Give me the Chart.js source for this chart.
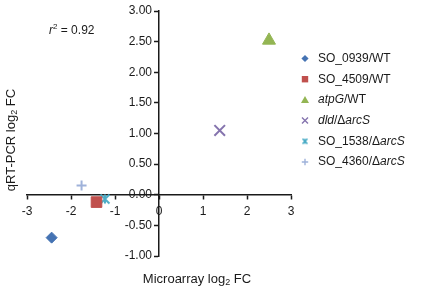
<!DOCTYPE html>
<html>
<head>
<meta charset="utf-8">
<script src="https://cdn.jsdelivr.net/npm/chart.js@4/dist/chart.umd.min.js"></script>
<style>
html,body{margin:0;padding:0;background:#fff;}
#wrap{width:428px;height:288px;position:relative;}
</style>
</head>
<body>
<div id="wrap"><canvas id="c" width="428" height="288"></canvas></div>
<script>
// ---- data ----
const seriesNames = ["SO_0939/WT", "SO_4509/WT", "atpG/WT", "dld/ΔarcS", "SO_1538/ΔarcS", "SO_4360/ΔarcS"];
// legend label pieces: [text, italic]
const legendParts = [
  [["SO_0939/WT", false]],
  [["SO_4509/WT", false]],
  [["atpG", true], ["/WT", false]],
  [["dld", true], ["/Δ", false], ["arcS", true]],
  [["SO_1538/Δ", false], ["arcS", true]],
  [["SO_4360/Δ", false], ["arcS", true]]
];
const microarrayFC = [-2.44, -1.42, 2.50, 1.38, -1.23, -1.76];
const qpcrFC = [-0.70, -0.12, 2.52, 1.05, -0.07, 0.15];
const xTickValues = [-3, -2, -1, 0, 1, 2, 3];
const yTickValues = [-1.00, -0.50, 0.00, 0.50, 1.00, 1.50, 2.00, 2.50, 3.00];
const rSquaredText = "0.92";

// ---- styles ----
const colors = ["#4573B3", "#C0504D", "#93B553", "#8574AE", "#4BACC6", "#9FB2DA"];
const FONT = "'Liberation Sans', Arial, sans-serif";

function starCanvas(size, color, lw) {
  const c = document.createElement('canvas');
  c.width = size; c.height = size;
  const g = c.getContext('2d');
  g.strokeStyle = color; g.lineWidth = lw;
  const m = 1.5, s = size - 1.5;
  g.beginPath();
  g.moveTo(m, m); g.lineTo(s, s);
  g.moveTo(s, m); g.lineTo(m, s);
  g.moveTo(size / 2, m); g.lineTo(size / 2, s);
  g.stroke();
  return c;
}
const starBig = starCanvas(12, colors[4], 2);
const starSmall = starCanvas(8, colors[4], 1.6);

const pointStyles = ['rectRot', 'rect', 'triangle', 'crossRot', starBig, 'cross'];
const pointRadii = [5.5, 7.5, 7.5, 7.5, 6, 5];
const borderWidths = [1, 1, 1, 2, 2, 2];

const datasets = seriesNames.map((name, i) => ({
  label: name,
  data: [{ x: microarrayFC[i], y: qpcrFC[i] }],
  pointStyle: pointStyles[i],
  pointRadius: pointRadii[i],
  pointHoverRadius: pointRadii[i],
  backgroundColor: colors[i],
  borderColor: colors[i],
  pointBorderWidth: borderWidths[i],
  showLine: false
}));

function drawMarker(ctx, i, x, y) {
  const col = colors[i];
  ctx.save();
  ctx.fillStyle = col; ctx.strokeStyle = col; ctx.lineWidth = 1.4;
  ctx.beginPath();
  if (i === 0) {
    ctx.moveTo(x, y - 3.6); ctx.lineTo(x + 3.6, y); ctx.lineTo(x, y + 3.6); ctx.lineTo(x - 3.6, y); ctx.closePath(); ctx.fill();
  } else if (i === 1) {
    ctx.rect(x - 3.2, y - 3.2, 6.4, 6.4); ctx.fill();
  } else if (i === 2) {
    ctx.moveTo(x, y - 4); ctx.lineTo(x + 4, y + 3); ctx.lineTo(x - 4, y + 3); ctx.closePath(); ctx.fill();
  } else if (i === 3) {
    ctx.moveTo(x - 3, y - 3); ctx.lineTo(x + 3, y + 3); ctx.moveTo(x + 3, y - 3); ctx.lineTo(x - 3, y + 3); ctx.stroke();
  } else if (i === 4) {
    ctx.drawImage(starSmall, x - 4, y - 4);
  } else {
    ctx.moveTo(x - 3.2, y); ctx.lineTo(x + 3.2, y); ctx.moveTo(x, y - 3.2); ctx.lineTo(x, y + 3.2); ctx.stroke();
  }
  ctx.restore();
}

const extras = {
  id: 'extras',
  afterDraw(chart) {
    const ctx = chart.ctx;
    ctx.save();
    ctx.fillStyle = '#1a1a1a';
    // legend
    const lx = 305, tx = 318, ly0 = 58.5, step = 20.7;
    legendParts.forEach((parts, i) => {
      const y = ly0 + i * step;
      drawMarker(ctx, i, lx, y);
      let x = tx;
      ctx.textBaseline = 'middle';
      ctx.textAlign = 'left';
      parts.forEach(([t, it]) => {
        ctx.font = (it ? 'italic ' : '') + '12px ' + FONT;
        ctx.fillStyle = '#1a1a1a';
        ctx.fillText(t, x, y);
        x += ctx.measureText(t).width;
      });
    });
    // r^2 annotation
    ctx.textBaseline = 'middle';
    ctx.textAlign = 'left';
    let x = 49;
    ctx.font = 'italic 12px ' + FONT;
    ctx.fillText('r', x, 31);
    x += ctx.measureText('r').width;
    ctx.font = '8px ' + FONT;
    ctx.fillText('2', x, 27);
    x += ctx.measureText('2').width;
    ctx.font = '12px ' + FONT;
    ctx.fillText(' = ' + rSquaredText, x, 31);
    // axis titles
    function subTitle(main, sub, tail, cx, cy) {
      ctx.font = '13px ' + FONT;
      const w1 = ctx.measureText(main).width;
      const w3 = ctx.measureText(tail).width;
      ctx.font = '9px ' + FONT;
      const w2 = ctx.measureText(sub).width;
      const total = w1 + w2 + w3;
      let sx = cx - total / 2;
      ctx.textAlign = 'left';
      ctx.textBaseline = 'middle';
      ctx.font = '13px ' + FONT;
      ctx.fillText(main, sx, cy); sx += w1;
      ctx.font = '9px ' + FONT;
      ctx.fillText(sub, sx, cy + 4); sx += w2;
      ctx.font = '13px ' + FONT;
      ctx.fillText(tail, sx, cy);
    }
    subTitle('Microarray log', '2', ' FC', 197, 279);
    ctx.save();
    ctx.translate(11, 140);
    ctx.rotate(-Math.PI / 2);
    subTitle('qRT-PCR log', '2', ' FC', 0, 0);
    ctx.restore();
    ctx.restore();
  }
};

new Chart(document.getElementById('c'), {
  type: 'scatter',
  data: { datasets },
  plugins: [extras],
  options: {
    responsive: false,
    animation: false,
    devicePixelRatio: 1,
    layout: { padding: { left: 27, top: 11, right: 137, bottom: 32 } },
    plugins: { legend: { display: false }, tooltip: { enabled: false } },
    scales: {
      x: {
        type: 'linear', min: -3, max: 3,
        position: { y: 0 },
        afterFit: s => { s.height = 0; },
        afterBuildTicks: s => { s.ticks = xTickValues.map(v => ({ value: v })); },
        ticks: { color: '#1a1a1a', font: { family: FONT, size: 12 }, padding: 6, maxRotation: 0, autoSkip: false,
                 callback: v => String(v) },
        grid: { drawOnChartArea: false, drawTicks: true, tickLength: 4, color: '#1a1a1a', tickWidth: 1.5 },
        border: { display: true, color: '#1a1a1a', width: 1.5 }
      },
      y: {
        type: 'linear', min: -1, max: 3,
        position: 'center',
        afterFit: s => { s.width = 0; },
        afterBuildTicks: s => { s.ticks = yTickValues.map(v => ({ value: v })); },
        ticks: { color: '#1a1a1a', font: { family: FONT, size: 12 }, padding: 3, autoSkip: false,
                 callback: v => Number(v).toFixed(2) },
        grid: { drawOnChartArea: false, drawTicks: true, tickLength: 4, color: '#1a1a1a', tickWidth: 1.5 },
        border: { display: true, color: '#1a1a1a', width: 1.5 }
      }
    }
  }
});
</script>
</body>
</html>
